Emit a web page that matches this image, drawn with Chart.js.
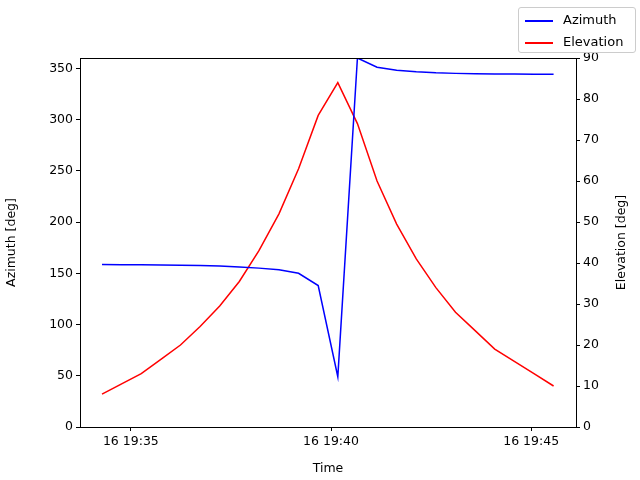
<!DOCTYPE html>
<html><head><script src="https://cdn.jsdelivr.net/npm/chart.js"></script>
<style>body{margin:0}#w{position:relative;width:640px;height:480px}
#lg{position:absolute;left:518px;top:7px;width:116px;height:44px;border:1px solid #ccc;border-radius:3px;background:#fff;font:13px "DejaVu Sans";}
#lg div{position:relative;height:20px;line-height:20px;padding-left:44px;margin-top:2px}
#lg span{position:absolute;left:6px;top:10px;width:28px;height:2px}
</style></head><body><div id="w"><canvas id="c" width="640" height="480"></canvas>
<div id="lg"><div><span style="background:blue"></span>Azimuth</div><div><span style="background:red"></span>Elevation</div></div></div>
<script>
const times=[34.28,34.77,35.26,35.75,36.24,36.73,37.22,37.71,38.20,38.70,39.19,39.68,40.17,40.66,41.15,41.64,42.13,42.62,43.11,43.60,44.09,44.58,45.07,45.56];
const azimuth=[158.5,158.4,158.3,158.1,157.9,157.5,157,156.2,155,153.5,150,138,49,360,351,348,346.5,345.5,345,344.7,344.5,344.3,344.2,344.1];
const elevation=[8,10.5,13,16.5,20,24.5,29.5,35.5,43,52,63,76,84,74,60,49.5,41,34,28,23.5,19,16,13,10];
const xTicks=[35,40,45];
const azTicks=[0,50,100,150,200,250,300,350];
const f='DejaVu Sans';
Chart.defaults.font.family=f;Chart.defaults.font.size=12.5;Chart.defaults.color='#000';
const g={display:true,drawOnChartArea:false,drawTicks:true,tickLength:4,color:'#000'};
const box={id:'box',afterDraw(c){const a=c.chartArea,x=c.ctx;x.save();x.strokeStyle='#000';x.lineWidth=1;
x.strokeRect(a.left+0.5,a.top+0.5,a.right-a.left,a.bottom-a.top);
x.translate(622,(a.top+a.bottom)/2);x.rotate(-Math.PI/2);x.font='12.5px "DejaVu Sans"';x.fillStyle='#000';x.textAlign='center';x.textBaseline='middle';
x.fillText('Elevation [deg]',0,0);x.restore();}};
new Chart(document.getElementById('c'),{type:'line',plugins:[box],data:{datasets:[
{label:'Azimuth',data:times.map((t,i)=>({x:t,y:azimuth[i]})),borderColor:'blue',borderWidth:1.5,pointRadius:0,yAxisID:'y',tension:0},
{label:'Elevation',data:times.map((t,i)=>({x:t,y:elevation[i]})),borderColor:'red',borderWidth:1.5,pointRadius:0,yAxisID:'y2',tension:0}]},
options:{responsive:false,animation:false,layout:{padding:{top:58,right:0,left:0,bottom:0}},
plugins:{legend:{display:false},tooltip:{enabled:false}},
scales:{x:{type:'linear',min:33.73,max:46.12,afterBuildTicks:a=>{a.ticks=xTicks.map(v=>({value:v}))},
ticks:{callback:v=>'16 19:'+v,maxRotation:0,padding:3},grid:g,border:{color:'#000'},
title:{display:true,text:'Time',padding:{top:0}},afterFit:s=>{s.height=53}},
y:{position:'left',min:0,max:360,afterBuildTicks:a=>{a.ticks=azTicks.map(v=>({value:v}))},ticks:{padding:3},grid:g,border:{color:'#000'},
title:{display:true,text:'Azimuth [deg]'},afterFit:s=>{s.width=80}},
y2:{position:'right',min:0,max:90,ticks:{stepSize:10,padding:3},grid:g,border:{color:'#000'},
title:{display:false},afterFit:s=>{s.width=64}}}}});
</script></body></html>
